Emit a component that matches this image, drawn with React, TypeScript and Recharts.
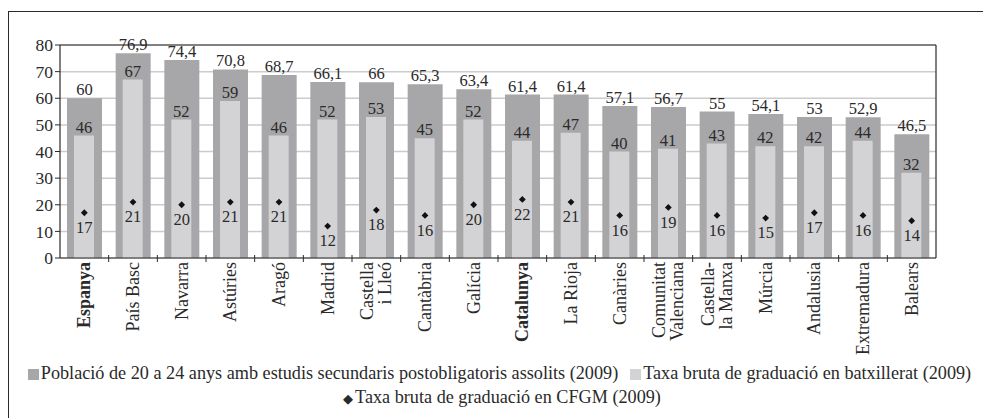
import React from "react"
import {
  ComposedChart,
  Bar,
  Scatter,
  XAxis,
  YAxis,
  CartesianGrid,
  ReferenceLine,
  LabelList,
} from "recharts"

const regions = [
  "Espanya", "País Basc", "Navarra", "Astúries", "Aragó", "Madrid", "Castella\ni Lleó",
  "Cantàbria", "Galícia", "Catalunya", "La Rioja", "Canàries", "Comunitat\nValenciana",
  "Castella-\nla Manxa", "Múrcia", "Andalusia", "Extremadura", "Balears",
]
const boldRegions = ["Espanya", "Catalunya"]

const poblacio = [60, 76.9, 74.4, 70.8, 68.7, 66.1, 66, 65.3, 63.4, 61.4, 61.4, 57.1, 56.7, 55, 54.1, 53, 52.9, 46.5]
const batxillerat = [46, 67, 52, 59, 46, 52, 53, 45, 52, 44, 47, 40, 41, 43, 42, 42, 44, 32]
const cfgm = [17, 21, 20, 21, 21, 12, 18, 16, 20, 22, 21, 16, 19, 16, 15, 17, 16, 14]

const yTicks = [0, 10, 20, 30, 40, 50, 60, 70, 80]

const legendPoblacio = "Població de 20 a 24 anys amb estudis secundaris postobligatoris assolits (2009)"
const legendBatx = "Taxa bruta de graduació en batxillerat (2009)"
const legendCfgm = "Taxa bruta de graduació en CFGM (2009)"

const data = regions.map((name, i) => ({
  name,
  poblacio: poblacio[i],
  batx: batxillerat[i],
  cfgm: cfgm[i],
}))

const FONT = "'Liberation Serif', 'Times New Roman', serif"
const DARK = "#a7a7a9"
const LIGHT = "#d3d3d5"
const INK = "#2a2a2a"

const W = 983
const PLOT_LEFT = 60
const PLOT_RIGHT = 936
const BAND = (PLOT_RIGHT - PLOT_LEFT) / regions.length

const fmt = (v: any) => String(v).replace(".", ",")

function RegionTick(props: any) {
  const { x, y, payload, index } = props
  const lines: string[] = String(payload.value).split("\n")
  const bold = boldRegions.includes(payload.value)
  return (
    <g>
      {index < regions.length - 1 && (
        <line x1={x + BAND / 2} x2={x + BAND / 2} y1={y - 3} y2={y + 4} stroke={INK} strokeWidth={1} />
      )}
      {lines.map((ln, i) => (
        <text
          key={i}
          transform={`translate(${x + (i - (lines.length - 1) / 2) * 18},${y + 4}) rotate(-90)`}
          textAnchor="end"
          dominantBaseline="central"
          style={{ fontFamily: FONT, fontSize: 18, fontWeight: bold ? 700 : 400 }}
          fill={INK}
        >
          {ln}
        </text>
      ))}
    </g>
  )
}

function Diamond(props: any) {
  const { cx, cy } = props
  const s = 3.4
  return <path d={`M${cx},${cy - s}L${cx + s},${cy}L${cx},${cy + s}L${cx - s},${cy}Z`} fill="#111" />
}

function Swatch({ color }: { color: string }) {
  return (
    <span
      style={{ display: "inline-block", width: 11, height: 11, background: color, marginRight: 2, verticalAlign: "-1px" }}
    />
  )
}

export default function App() {
  const yProps = {
    domain: [0, 80] as [number, number],
    ticks: yTicks,
    interval: 0 as const,
    tickSize: 5,
    tickMargin: 2,
    axisLine: { stroke: INK, strokeWidth: 1.2 },
    tickLine: { stroke: INK },
    tick: { fill: INK, fontSize: 17.5 },
  }
  const labelStyle = { fill: INK, fontSize: 16.5 }
  return (
    <div style={{ position: "relative", width: W, height: 418, fontFamily: FONT, overflow: "hidden" }}>
      <style>{`body{margin:0;overflow:hidden} .recharts-wrapper text, .recharts-wrapper tspan{font-family:${FONT} !important}`}</style>
      <div
        style={{
          position: "absolute",
          left: 8,
          top: 11,
          width: 975,
          height: 420,
          borderTop: `1.5px solid ${INK}`,
          borderLeft: `1.5px solid ${INK}`,
        }}
      />
      <div style={{ position: "absolute", left: 0, top: 0 }}>
        <ComposedChart
          width={W}
          height={370}
          data={data}
          margin={{ top: 45, right: 0, bottom: 0, left: 0 }}
          style={{ fontFamily: FONT }}
        >
          <CartesianGrid xAxisId="main" yAxisId="left" vertical={false} stroke="#cbcbcb" strokeWidth={1.5} />
          <XAxis xAxisId="inner" dataKey="name" hide height={0} />
          <XAxis
            xAxisId="main"
            dataKey="name"
            interval={0}
            height={112}
            tickSize={0}
            tickMargin={0}
            tickLine={false}
            axisLine={{ stroke: INK, strokeWidth: 1.2 }}
            tick={<RegionTick />}
          />
          <YAxis yAxisId="left" width={PLOT_LEFT} {...yProps} />
          <YAxis yAxisId="right" orientation="right" width={W - PLOT_RIGHT} {...yProps} />
          <ReferenceLine xAxisId="main" yAxisId="left" y={80} stroke={INK} strokeWidth={1.2} />
          <Bar xAxisId="main" yAxisId="left" dataKey="poblacio" fill={DARK} barSize={35} isAnimationActive={false}>
            <LabelList dataKey="poblacio" position="top" offset={3} formatter={fmt} {...labelStyle} />
          </Bar>
          <Bar xAxisId="inner" yAxisId="left" dataKey="batx" fill={LIGHT} barSize={20} isAnimationActive={false}>
            <LabelList dataKey="batx" position="top" offset={3} formatter={fmt} {...labelStyle} />
          </Bar>
          <Scatter xAxisId="main" yAxisId="left" dataKey="cfgm" shape={<Diamond />} isAnimationActive={false}>
            <LabelList dataKey="cfgm" position="bottom" offset={4} formatter={fmt} {...labelStyle} />
          </Scatter>
        </ComposedChart>
      </div>
      <div
        style={{
          position: "absolute",
          left: 8,
          top: 361,
          width: W,
          textAlign: "center",
          fontSize: 18.2,
          lineHeight: "24px",
          color: INK,
          whiteSpace: "nowrap",
        }}
      >
        <div>
          <Swatch color={DARK} />
          {legendPoblacio}
          <span style={{ display: "inline-block", width: 12 }} />
          <Swatch color={LIGHT} />
          {legendBatx}
        </div>
        <div style={{ marginLeft: 5 }}>
          <span style={{ fontSize: 13, marginRight: 2 }}>◆</span>
          {legendCfgm}
        </div>
      </div>
    </div>
  )
}
